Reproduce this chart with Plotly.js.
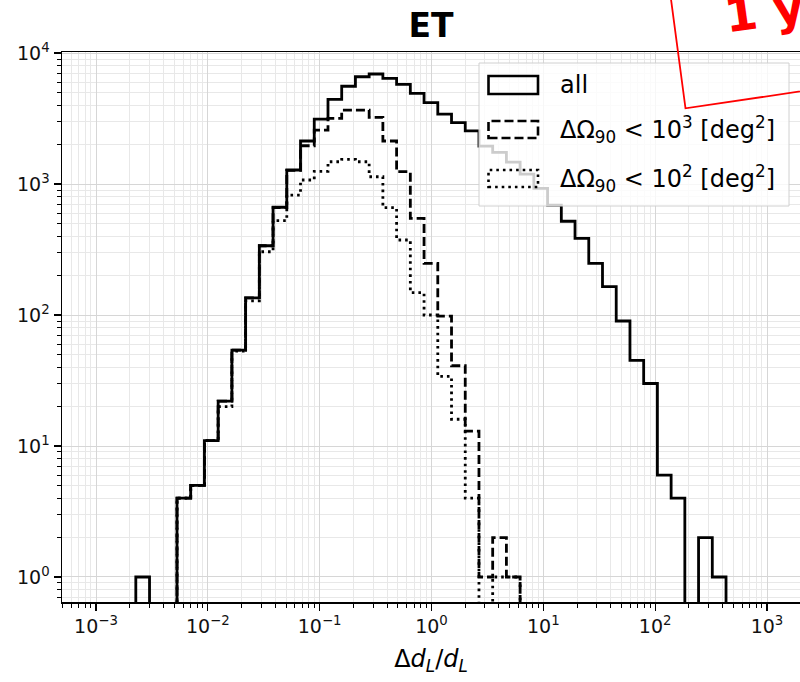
<!DOCTYPE html>
<html>
<head>
<meta charset="utf-8">
<script src="https://cdn.plot.ly/plotly-3.0.1.min.js"></script>
<style>html,body{margin:0;padding:0;background:#fff;}#chart{width:800px;height:682px;}</style>
</head>
<body>
<div id="chart"></div>
<script>
// Bin edges (log-spaced) of the histogram, Δd_L/d_L
const binEdges = [0.002270, 0.003011, 0.003995, 0.005300, 0.007028, 0.009324, 0.01237, 0.01641,
  0.02177, 0.02888, 0.03831, 0.05082, 0.06742, 0.08944, 0.1187, 0.1574, 0.2088, 0.2770,
  0.3675, 0.4874, 0.6466, 0.8578, 1.138, 1.510, 2.003, 2.657, 3.524, 4.675, 6.201, 8.226,
  10.91, 14.48, 19.20, 25.48, 33.80, 44.84, 59.50, 78.91, 104.7, 138.9, 184.2, 244.3, 324.2, 430.1];

// Counts per bin
const countsAll = [1, 0, 0, 4, 5, 11, 22, 54, 135, 338, 665, 1280, 2130, 3130, 4430, 5580, 6590, 6920,
  6410, 5770, 4920, 4180, 3420, 2940, 2550, 1950, 1746, 1472, 1192, 927, 690, 520, 385, 248, 165,
  90, 45, 30, 6, 4, 0, 2, 1];
const countsLt1000 = [0, 0, 0, 4, 5, 11, 22, 54, 135, 338, 660, 1270, 1960, 2580, 3170, 3670, 3670, 3230,
  2130, 1242, 547, 248, 98, 41, 13, 1, 2, 1, 0, 0, 0, 0, 0, 0, 0,
  0, 0, 0, 0, 0, 0, 0, 0];
const countsLt100 = [0, 0, 0, 4, 5, 11, 20, 53, 128, 304, 525, 824, 1073, 1250, 1480, 1544, 1480, 1137,
  660, 374, 148, 100, 34, 16, 4, 0, 1, 1, 0, 0, 0, 0, 0, 0, 0,
  0, 0, 0, 0, 0, 0, 0, 0];

const seriesNames = ['all', 'ΔΩ<sub>90</sub> < 10<sup>3</sup> [deg<sup>2</sup>]', 'ΔΩ<sub>90</sub> < 10<sup>2</sup> [deg<sup>2</sup>]'];
const xTickVals = [1e-3, 1e-2, 1e-1, 1, 10, 100, 1000];
const xTickText = ['10<sup>−3</sup>', '10<sup>−2</sup>', '10<sup>−1</sup>', '10<sup>0</sup>', '10<sup>1</sup>', '10<sup>2</sup>', '10<sup>3</sup>'];
const yTickVals = [1, 10, 100, 1000, 10000];
const yTickText = ['10<sup>0</sup>', '10<sup>1</sup>', '10<sup>2</sup>', '10<sup>3</sup>', '10<sup>4</sup>'];

const FLOOR = 1e-2; // zero counts are clipped below the log axis
function stepTrace(counts, dash) {
  const x = [binEdges[0]].concat(binEdges);
  const y = [FLOOR].concat(counts.map(c => c > 0 ? c : FLOOR)).concat([FLOOR]);
  return {x: x, y: y, type: 'scatter', mode: 'lines', line: {shape: 'hv', color: '#000', width: 2.8, dash: dash},
          showlegend: false, hoverinfo: 'skip'};
}

function minorVals(lo, hi) {
  const v = [];
  for (let n = lo; n <= hi; n++) for (let m = 2; m <= 9; m++) v.push(m * Math.pow(10, n));
  return v;
}

const traces = [
  stepTrace(countsAll, 'solid'),
  stepTrace(countsLt1000, '9px,4px'),
  stepTrace(countsLt100, '2.6px,4px')
];

// plot-area pixel helpers for overlay decorations
const L = 62, R = 800, T = 52, B = 602;
const px = v => (v - L) / (R - L);
const py = v => (B - v) / (B - T);

const fontFam = 'DejaVu Sans, sans-serif';
const shapes = [];
const annotations = [];
// legend box
shapes.push({type: 'rect', xref: 'paper', yref: 'paper', x0: px(479), x1: px(789), y0: py(206), y1: py(63),
  fillcolor: 'rgba(255,255,255,0.8)', line: {color: '#d0d0d0', width: 1}, layer: 'above'});
const legendRows = [[76, 94, 'solid'], [121, 138, '9px,4px'], [170, 187, '2.6px,4px']];
legendRows.forEach((r, i) => {
  shapes.push({type: 'rect', xref: 'paper', yref: 'paper', x0: px(488.5), x1: px(538), y0: py(r[1]), y1: py(r[0]),
    line: {color: '#000', width: 2.6, dash: r[2]}, fillcolor: 'rgba(0,0,0,0)', layer: 'above'});
  annotations.push({xref: 'paper', yref: 'paper', x: px(558), y: py((r[0] + r[1]) / 2), xanchor: 'left', yanchor: 'middle',
    text: seriesNames[i], showarrow: false, font: {family: fontFam, size: 24, color: '#000'}});
});
// red stamp box (cropped)
shapes.push({type: 'path', xref: 'paper', yref: 'paper', layer: 'above',
  path: 'M ' + px(669.5) + ',' + py(-12) + ' L ' + px(685.5) + ',' + py(108.3) + ' L ' + px(820) + ',' + py(88.5),
  line: {color: '#ff0000', width: 1.8}});
annotations.push({xref: 'paper', yref: 'paper', x: px(719), y: py(46), xanchor: 'left', yanchor: 'bottom',
  text: '<b>1 year</b>', textangle: -8, showarrow: false, font: {family: fontFam, size: 47, color: '#ff0000'}});

const axisCommon = {
  type: 'log', showline: true, linecolor: '#000', linewidth: 1.5,
  ticks: 'outside', ticklen: 7, tickwidth: 1.3, tickcolor: '#000',
  showgrid: true, gridcolor: '#d6d6d6', gridwidth: 1, zeroline: false,
  tickmode: 'array', tickfont: {family: fontFam, size: 19, color: '#111'}
};

const layout = {
  width: 800, height: 682,
  margin: {l: L, r: 800 - R, t: T, b: 682 - B},
  paper_bgcolor: '#fff', plot_bgcolor: '#fff',
  title: {text: '<b>ET</b>', x: 0.5, xref: 'paper', y: 1 - 25 / 682, yref: 'container', yanchor: 'middle',
          font: {family: fontFam, size: 33, color: '#000'}},
  xaxis: Object.assign({}, axisCommon, {
    range: [-3.304, 3.295], tickvals: xTickVals, ticktext: xTickText, mirror: true,
    minor: {tickmode: 'array', tickvals: minorVals(-4, 3), ticks: 'outside', ticklen: 4, tickwidth: 1, tickcolor: '#000',
            showgrid: true, gridcolor: '#e8e8e8', gridwidth: 1},
    title: {text: 'Δ<i>d</i><sub><i>L</i></sub>/<i>d</i><sub><i>L</i></sub>', font: {family: fontFam, size: 24, color: '#000'}, standoff: 14}
  }),
  yaxis: Object.assign({}, axisCommon, {
    range: [-0.191, 4.008], tickvals: yTickVals, ticktext: yTickText, mirror: false,
    minor: {tickmode: 'array', tickvals: minorVals(-1, 3), ticks: 'outside', ticklen: 4, tickwidth: 1, tickcolor: '#000',
            showgrid: true, gridcolor: '#e8e8e8', gridwidth: 1}
  }),
  shapes: shapes,
  annotations: annotations,
  showlegend: false
};

Plotly.newPlot('chart', traces, layout, {staticPlot: true, displayModeBar: false});
</script>
</body>
</html>
